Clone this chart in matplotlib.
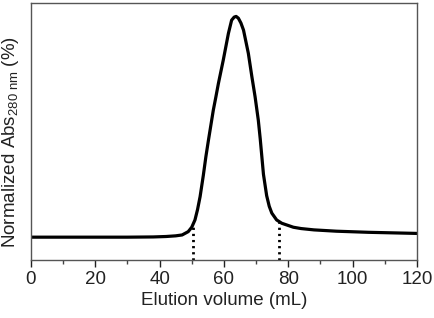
import matplotlib
matplotlib.use("Agg")
import matplotlib.pyplot as plt
from matplotlib.ticker import MultipleLocator

plt.rcParams['font.family'] = ['Liberation Sans', 'DejaVu Sans']
plt.rcParams['mathtext.fontset'] = 'custom'
plt.rcParams['mathtext.rm'] = 'Liberation Sans'
plt.rcParams['mathtext.it'] = 'Liberation Sans'

# elution profile (mL, normalized %)
volume = [0, 10, 20, 30, 38, 42, 45, 47, 48.9, 50.0, 51.0, 51.8, 52.6, 53.6,
          54.4, 55.2, 56.2, 56.7, 57.5, 58.3, 59.8, 60.7, 61.4, 62.4, 63.2,
          63.8, 64.5, 65.3, 66.1, 67.6, 68.7, 69.7, 70.7, 71.3, 72.3, 73.3,
          74.1, 74.9, 76.4, 78.0, 81.6, 84, 88, 95, 105, 120]
absorb = [0, 0, 0, 0, 0.1, 0.3, 0.6, 1.0, 2.5, 4.5, 7.8, 12.5, 18.4, 28,
          36.5, 44, 53, 57.5, 63.5, 69.7, 80.2, 87, 92.3, 98.3, 99.7,
          100, 99.2, 97, 93.8, 83.3, 72.7, 63.6, 53, 44.5, 28.5, 18.8,
          14, 10.9, 7.8, 6.3, 4.5, 3.9, 3.3, 2.7, 2.2, 1.7]

# fraction cut markers
cut_volume = [50.5, 77.2]
cut_top = [6.0, 6.8]

fig = plt.figure(figsize=(4.34, 3.18), dpi=100)
ax = fig.add_axes([0.0714, 0.182, 0.889, 0.808])

ax.plot(volume, absorb, color='black', lw=2.3, solid_capstyle='round',
        solid_joinstyle='round')
ymin = -10.4
for xv, yt in zip(cut_volume, cut_top):
    ax.plot([xv, xv], [ymin, yt], color='black', lw=2.0, linestyle=(0, (0.8, 1.4)))

ax.set_xlim(0, 120)
ax.set_ylim(ymin, 106)
ax.xaxis.set_major_locator(MultipleLocator(20))
ax.xaxis.set_minor_locator(MultipleLocator(10))
ax.tick_params(axis='x', which='major', direction='out', length=5, width=1,
               labelsize=13.5, pad=3, colors='#222222')
ax.tick_params(axis='x', which='minor', direction='out', length=3, width=1, colors='#444444')
ax.set_yticks([])
for s in ax.spines.values():
    s.set_color('#555555')
    s.set_linewidth(1.0)

ax.set_xlabel("Elution volume (mL)", fontsize=13.5, color='#222222', labelpad=3)
ax.set_ylabel(r"Normalized Abs$_{\mathregular{280\ nm}}$ (%)", fontsize=13.5,
              color='#222222')
ax.yaxis.set_label_coords(-0.026, 0.46)

fig.savefig("out.png", dpi=100)
